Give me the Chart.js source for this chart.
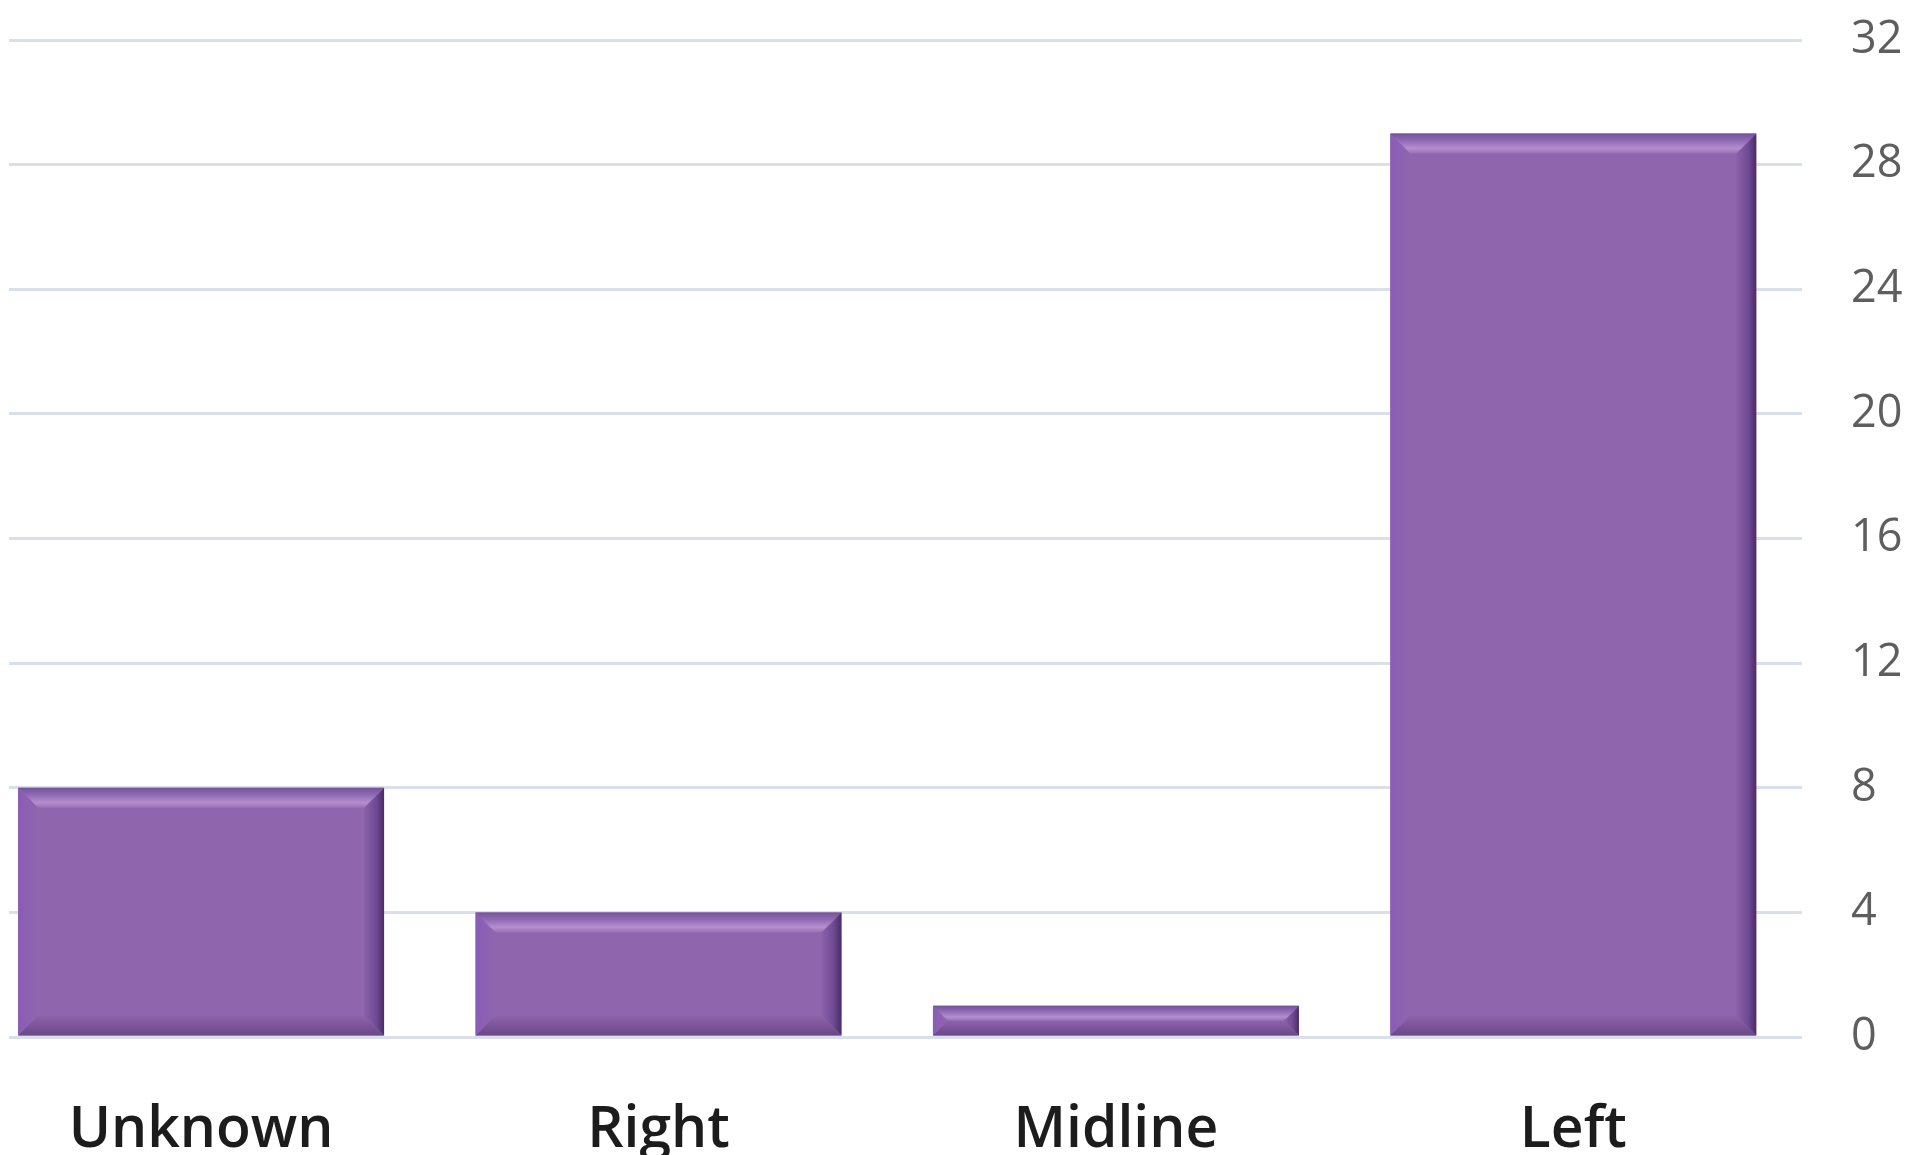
<!DOCTYPE html>
<html>
<head>
<meta charset="utf-8">
<title>Cases by side</title>
<script src="https://cdn.jsdelivr.net/npm/chart.js@4/dist/chart.umd.min.js"></script>
<style>
  html, body { margin: 0; padding: 0; background: #ffffff; }
  #wrap { position: relative; width: 1916px; height: 1155px; }
</style>
</head>
<body>
<div id="wrap"><canvas id="chart"></canvas></div>
<script>
// Categories along the bottom and the count for each
const categories = ['Unknown', 'Right', 'Midline', 'Left'];
const counts = [8, 4, 1, 29];
// Value axis ticks (right-hand side)
const yTickValues = [0, 4, 8, 12, 16, 20, 24, 28, 32];

const points = counts.map((v, i) => ({ x: i, y: v }));

// Bevelled look on each bar: light top edge, darker right and bottom edges
const bevelPlugin = {
  id: 'bevel',
  afterDatasetsDraw(chart) {
    const ctx = chart.ctx;
    const meta = chart.getDatasetMeta(0);
    meta.data.forEach((bar) => {
      const p = bar.getProps(['x', 'y', 'base', 'width'], true);
      const L = p.x - p.width / 2, R = p.x + p.width / 2;
      const T = Math.min(p.y, p.base), B = Math.max(p.y, p.base);
      const h = B - T;
      const b = Math.min(20, h / 2);
      const poly = (pts, fill) => {
        ctx.beginPath();
        ctx.moveTo(pts[0][0], pts[0][1]);
        for (let k = 1; k < pts.length; k++) ctx.lineTo(pts[k][0], pts[k][1]);
        ctx.closePath();
        ctx.fillStyle = fill;
        ctx.fill();
      };
      ctx.save();
      // left edge
      let g = ctx.createLinearGradient(L, 0, L + b, 0);
      g.addColorStop(0, '#8a5cb6');
      g.addColorStop(1, '#8f66ae');
      poly([[L, T], [L + b, T + b], [L + b, B - b], [L, B]], g);
      // right edge
      g = ctx.createLinearGradient(R - b, 0, R, 0);
      g.addColorStop(0, '#8a62aa');
      g.addColorStop(0.6, '#6f4a92');
      g.addColorStop(1, '#4a2b68');
      poly([[R, T], [R, B], [R - b, B - b], [R - b, T + b]], g);
      // bottom edge
      g = ctx.createLinearGradient(0, B - b, 0, B);
      g.addColorStop(0, '#8c64ab');
      g.addColorStop(1, '#6a4788');
      poly([[L, B], [R, B], [R - b, B - b], [L + b, B - b]], g);
      // top edge with highlight
      g = ctx.createLinearGradient(0, T, 0, T + b);
      g.addColorStop(0, '#74529a');
      g.addColorStop(0.35, '#8f6ab4');
      g.addColorStop(0.75, '#b48fcc');
      g.addColorStop(1, '#9870b5');
      poly([[L, T], [R, T], [R - b, T + b], [L + b, T + b]], g);
      ctx.restore();
    });
  }
};

new Chart(document.getElementById('chart'), {
  type: 'bar',
  data: {
    datasets: [{
      data: points,
      backgroundColor: '#8f66ae',
      borderWidth: 0,
      barPercentage: 0.8,
      categoryPercentage: 1.0
    }]
  },
  options: {
    responsive: true,
    maintainAspectRatio: false,
    animation: false,
    events: [],
    layout: { padding: { left: 9, top: 40, right: 0, bottom: 0 } },
    plugins: {
      legend: { display: false },
      tooltip: { enabled: false },
      title: { display: false }
    },
    scales: {
      x: {
        type: 'linear',
        offset: false,
        min: -0.42,
        max: 3.5,
        grid: { display: false, drawTicks: false },
        border: { display: false },
        afterBuildTicks: (scale) => {
          scale.ticks = categories.map((_, i) => ({ value: i }));
        },
        afterFit: (scale) => {
          scale.height = 118;
          scale.paddingLeft = 0;
          scale.paddingRight = 0;
        },
        ticks: {
          autoSkip: false,
          maxRotation: 0,
          padding: 60,
          color: '#1c1c1c',
          font: { family: '"Open Sans", "Noto Sans", sans-serif', size: 57, weight: '600' },
          callback: (v) => categories[v] ?? ''
        }
      },
      y: {
        position: 'right',
        min: 0,
        max: 32,
        afterBuildTicks: (scale) => {
          scale.ticks = yTickValues.map((v) => ({ value: v }));
        },
        afterFit: (scale) => {
          scale.width = 114;
          scale.paddingTop = 0;
          scale.paddingBottom = 0;
        },
        grid: { color: '#d9e0eb', lineWidth: 3, drawTicks: false },
        border: { display: false },
        ticks: {
          padding: 49,
          color: '#5e5e5e',
          font: { family: '"Open Sans", "Noto Sans", sans-serif', size: 45 }
        }
      }
    }
  },
  plugins: [bevelPlugin]
});
</script>
</body>
</html>
